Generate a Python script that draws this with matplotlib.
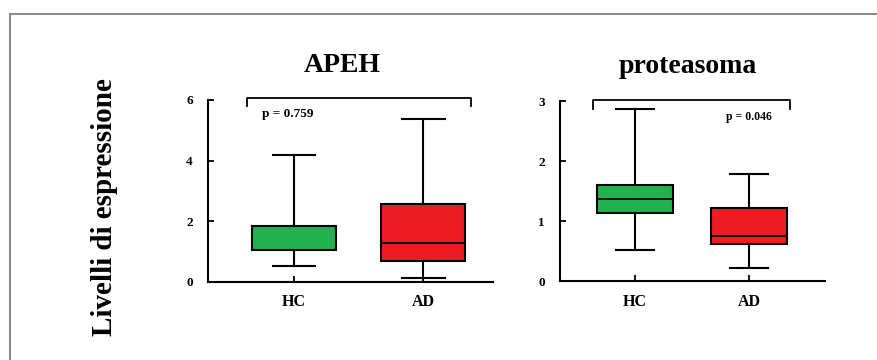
import matplotlib
matplotlib.use('Agg')
import matplotlib.pyplot as plt
from matplotlib.lines import Line2D

# ============================================================
# dati
# ============================================================
groups = ['HC', 'AD']
box_colors = ['#22b14c', '#ed1c24']

# APEH: whislo, q1, med, q3, whishi
apeh_whislo = [0.53, 0.12]
apeh_q1 = [1.05, 0.69]
apeh_med = [1.05, 1.29]
apeh_q3 = [1.85, 2.57]
apeh_whishi = [4.2, 5.37]
apeh_p = 'p = 0.759'

# proteasoma
prot_whislo = [0.52, 0.22]
prot_q1 = [1.13, 0.62]
prot_med = [1.37, 0.75]
prot_q3 = [1.60, 1.22]
prot_whishi = [2.87, 1.78]
prot_p = 'p = 0.046'

SERIF = ['Liberation Serif', 'DejaVu Serif']


def make_stats(lo, q1, med, q3, hi):
    return [dict(whislo=lo[i], q1=q1[i], med=med[i], q3=q3[i], whishi=hi[i],
                 fliers=[], label=groups[i]) for i in range(len(groups))]


def draw_panel(ax, stats, title, title_x, ymax, yticks, xlim, width, pval, psize,
               ptext_x, ptext_y, br_x, br_y, br_drop):
    bp = ax.bxp(stats, positions=[1, 2], widths=width, patch_artist=True,
                capwidths=0.33,
                boxprops=dict(linewidth=1.5, edgecolor='black'),
                medianprops=dict(color='black', linewidth=1.3),
                whiskerprops=dict(color='black', linewidth=1.5),
                capprops=dict(color='black', linewidth=1.5))
    for patch, c in zip(bp['boxes'], box_colors):
        patch.set_facecolor(c)

    ax.set_xlim(*xlim)
    ax.set_ylim(0, ymax)
    ax.set_yticks(yticks)
    ax.set_xticks([1, 2])
    ax.set_xticklabels(groups, fontfamily=SERIF, fontweight='bold', fontsize=11.5)
    for lab in ax.get_yticklabels():
        lab.set_fontfamily(SERIF)
        lab.set_fontweight('bold')
        lab.set_fontsize(9.5)
    ax.tick_params(axis='both', direction='in', length=4, width=1.3)
    ax.tick_params(axis='x', pad=9)
    ax.tick_params(axis='y', pad=11)
    for s in ['top', 'right']:
        ax.spines[s].set_visible(False)
    for s in ['left', 'bottom']:
        ax.spines[s].set_linewidth(1.5)

    t = ax.set_title(title, fontfamily=SERIF, fontweight='bold', fontsize=20, pad=20)
    t.set_x(title_x)

    # parentesi di confronto
    ax.plot([br_x[0], br_x[0], br_x[1], br_x[1]],
            [br_y - br_drop, br_y, br_y, br_y - br_drop],
            color='black', linewidth=1.3, clip_on=False)
    ax.text(ptext_x, ptext_y, pval, fontfamily=SERIF, fontweight='bold',
            fontsize=psize, ha='left', va='center')


fig = plt.figure(figsize=(8.77, 3.6), dpi=100)

ax1 = fig.add_axes([0.2372, 0.2167, 0.325, 0.5056])
draw_panel(ax1, make_stats(apeh_whislo, apeh_q1, apeh_med, apeh_q3, apeh_whishi),
           'APEH', 0.47, 6, [0, 2, 4, 6], (0.333, 2.54), 0.65, apeh_p, 9.5, 0.75, 5.55,
           (0.635, 2.372), 6.07, 0.28)

ax2 = fig.add_axes([0.6385, 0.2194, 0.3022, 0.5])
draw_panel(ax2, make_stats(prot_whislo, prot_q1, prot_med, prot_q3, prot_whishi),
           'proteasoma', 0.483, 3, [0, 1, 2, 3], (0.342, 2.667), 0.66, prot_p, 8.5, 1.8, 2.73,
           (0.631, 2.36), 3.02, 0.15)

fig.text(105 / 877, 1 - 207 / 360, 'Livelli di espressione', rotation=90,
         fontfamily=SERIF, fontweight='bold', fontsize=21, ha='center', va='center')

# cornice grigia
fig.add_artist(Line2D([10 / 877, 1.0], [1 - 14 / 360, 1 - 14 / 360],
                      color='#8c8c8c', linewidth=1.5, transform=fig.transFigure))
fig.add_artist(Line2D([10 / 877, 10 / 877], [0.0, 1 - 14 / 360],
                      color='#8c8c8c', linewidth=1.5, transform=fig.transFigure))

plt.savefig('out.png', dpi=100)
plt.close()
